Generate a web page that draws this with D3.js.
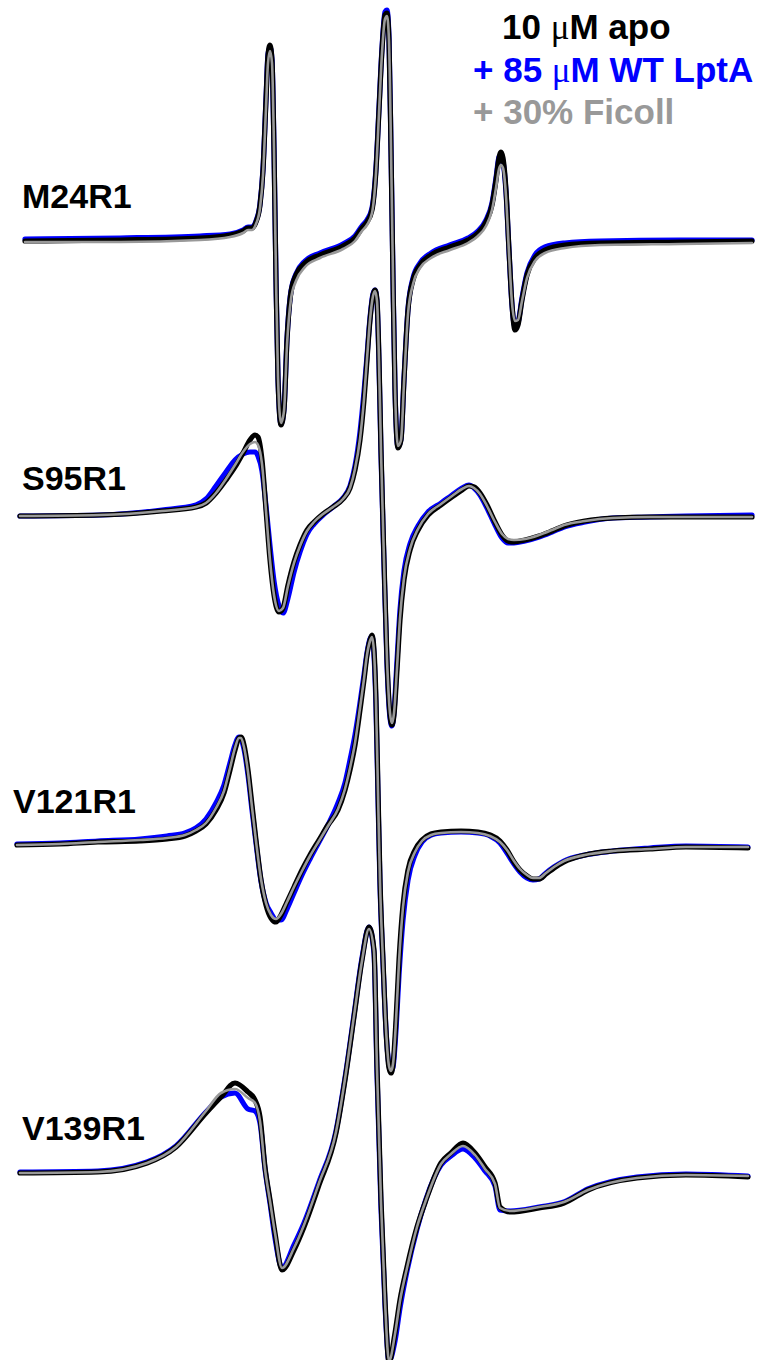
<!DOCTYPE html>
<html lang="en">
<head>
<meta charset="UTF-8">
<title>EPR spectra</title>
<style>
  body { margin: 0; background: #fff; }
  svg text { font-family: "Liberation Sans", Arial, sans-serif; font-weight: bold; }
</style>
</head>
<body>
<svg id="chart" width="765" height="1360"></svg>
<script src="https://cdn.jsdelivr.net/npm/d3@7"></script>
<script>
// magnetic field (G) and first-derivative intensity (a.u.)
var fieldM24 = [3400.7,3410.2,3418.2,3421.2,3422.5,3423.0,3423.4,3423.8,3424.2,3424.5,
  3424.8,3425.0,3425.2,3425.4,3425.6,3425.8,3426.0,3426.3,3426.6,3426.9,
  3427.3,3427.8,3428.7,3430.2,3432.5,3433.7,3434.4,3434.9,3435.4,3435.8,
  3436.1,3436.4,3436.7,3436.9,3437.1,3437.3,3437.5,3437.7,3438.0,3438.3,
  3438.6,3439.0,3439.5,3440.2,3441.3,3443.2,3445.0,3446.0,3446.8,3447.4,
  3447.8,3448.1,3448.3,3448.5,3448.8,3449.1,3449.4,3449.7,3450.0,3450.4,
  3450.9,3451.7,3452.7,3454.7,3458.2,3466.2,3473.4];
var apoM24 = [0,1,3,6,10,13,13,19,36,71, 141,186,196,181,91,-39,-139,-184,-169,-99,
  -51,-34,-22,-14,-5,3,13,19,31,71, 131,191,226,228,201,91,-39,-149,-207,-199,
  -139,-69,-39,-24,-14,-6,1,8,19,36, 61,83,89,83,51,-9,-64,-89,-84,-59,
  -34,-17,-9,-4,-2,-1,0];
var lptaM24 = [2,3,5,7,11,14,14,20,37,72, 142,187,194,181,92,-38,-138,-183,-168,-98,
  -50,-33,-20,-12,-3,5,15,21,33,73, 133,193,229,231,203,92,-38,-148,-206,-198,
  -138,-68,-37,-22,-12,-4,3,10,21,38, 63,84,86,80,49,-10,-64,-86,-82,-57,
  -32,-14,-6,-2,0,1,1];
var ficollM24 = [-1,-1,1,4,8,11,11,17,33,66, 133,178,190,178,92,-36,-136,-182,-170,-104,
  -58,-40,-26,-17,-8,0,10,16,28,68, 128,188,222,225,200,93,-36,-146,-205,-199,
  -142,-73,-43,-27,-17,-9,-2,5,15,31, 53,72,76,73,45,-12,-62,-80,-79,-60,
  -37,-20,-12,-7,-4,-3,-2];

var fieldS95 = [3400.2,3408.2,3414.4,3417.8,3418.8,3419.8,3420.8,3421.7,3422.5,3423.2,
  3423.7,3424.0,3424.4,3424.8,3425.2,3425.6,3426.1,3426.5,3427.0,3427.6,
  3428.2,3428.9,3429.6,3430.5,3431.5,3432.5,3433.2,3433.7,3434.2,3434.6,
  3434.9,3435.2,3435.5,3435.7,3435.9,3436.1,3436.3,3436.6,3436.9,3437.2,
  3437.4,3437.6,3437.9,3438.2,3438.6,3439.2,3440.0,3441.0,3442.3,3443.4,
  3444.4,3445.1,3445.6,3446.2,3446.9,3447.7,3448.4,3449.0,3449.6,3450.7,
  3452.1,3453.4,3454.6,3456.7,3459.5,3463.2,3466.8,3473.4];
var apoS95 = [0,1,5,9,13,23,36,49,63,76, 81,79,56,6,-44,-79,-96,-92,-69,-46,
  -29,-14,-6,2,9,17,28,46,76,116, 156,196,221,226,216,156,66,-44,-144,-199,
  -209,-199,-154,-104,-64,-34,-14,1,11,19, 26,30,29,23,11,-6,-19,-25,-26,-24,
  -20,-15,-10,-5,-2,-1,-1,-1];
var lptaS95 = [0,1,6,11,17,30,44,56,62,64, 64,60,45,10,-30,-65,-90,-97,-82,-56,
  -36,-18,-8,1,9,18,30,50,84,124, 160,198,222,226,214,152,62,-48,-148,-202,
  -210,-196,-145,-94,-55,-28,-10,4,13,21, 28,31,28,21,8,-9,-22,-27,-27,-25,
  -21,-16,-11,-6,-2,-1,0,1];
var ficollS95 = [0,1,5,9,13,23,37,51,64,72, 74,71,52,5,-44,-79,-95,-92,-70,-47,
  -30,-15,-6,2,9,17,28,47,77,117, 157,196,220,225,215,155,65,-44,-143,-197,
  -207,-197,-152,-102,-62,-33,-13,2,12,20, 27,30,28,22,10,-6,-18,-23,-24,-23,
  -19,-14,-9,-5,-2,-1,-1,-1];

var fieldV121 = [3399.9,3404.2,3408.0,3412.2,3414.9,3416.7,3417.8,3418.8,3419.8,3420.6,
  3421.2,3421.7,3422.1,3422.3,3422.6,3423.0,3423.4,3423.8,3424.3,3424.8,
  3425.3,3425.8,3426.3,3426.9,3427.6,3428.4,3429.2,3430.1,3431.0,3432.0,
  3432.7,3433.2,3433.7,3434.2,3434.6,3434.9,3435.2,3435.4,3435.6,3435.8,
  3436.0,3436.2,3436.5,3436.8,3437.1,3437.3,3437.5,3437.8,3438.1,3438.5,
  3439.0,3439.7,3440.4,3441.3,3442.3,3444.3,3446.0,3447.2,3448.2,3448.9,
  3449.6,3450.2,3450.9,3451.5,3452.1,3452.8,3453.6,3454.6,3456.7,3459.5,
  3463.2,3466.8,3473.0];
var apoV121 = [0,1,3,4,6,9,14,21,35,52, 75,95,107,108,100,75,40,5,-35,-60,
  -73,-77,-70,-57,-42,-25,-10,5,20,35, 55,75,100,135,165,190,205,210,195,145,
  55,-35,-115,-185,-223,-228,-220,-175,-115,-60, -25,-5,5,11,13,14,13,10,4,-5,
  -17,-25,-31,-34,-34,-29,-23,-17,-10,-6, -4,-2,-3];
var lptaV121 = [1,2,4,6,9,12,17,26,42,60, 82,100,108,106,96,70,35,2,-36,-58,
  -68,-75,-75,-64,-48,-30,-14,3,20,42, 62,85,110,142,170,192,206,209,190,138,
  48,-40,-118,-185,-220,-226,-222,-185,-130,-75, -35,-10,3,10,12,13,12,9,2,-8,
  -19,-27,-33,-35,-34,-28,-22,-16,-10,-6, -3,-1,-2];
var ficollV121 = [0,1,3,5,7,10,15,22,37,54, 77,97,107,107,98,73,38,4,-34,-58,
  -70,-74,-69,-57,-42,-26,-11,4,19,36, 56,77,102,137,166,190,204,208,193,143,
  53,-37,-116,-184,-221,-226,-219,-176,-117,-62, -27,-7,4,10,12,13,12,9,3,-5,
  -16,-24,-30,-33,-33,-28,-22,-16,-10,-6, -4,-2,-2];

var fieldV139 = [3400.2,3408.0,3412.9,3415.8,3418.8,3420.3,3421.7,3423.0,3423.7,3424.2,
  3424.7,3425.2,3425.7,3426.4,3427.6,3428.6,3430.1,3431.8,3432.7,3433.6,
  3434.4,3435.1,3435.6,3435.9,3436.3,3436.7,3437.1,3437.7,3438.2,3438.9,
  3439.9,3440.8,3442.3,3443.3,3444.5,3445.7,3446.7,3447.7,3448.2,3449.2,
  3452.1,3454.6,3457.0,3461.9,3466.8,3473.0];
var apoV139 = [0,1,10,26,60,76,90,81,73,56, 6,-27,-60,-97,-77,-54,-12,40,93,156,
  213,246,223,106,-27,-127,-189,-160,-127,-94, -54,-27,10,20,30,20,6,-10,-34,-39,
  -35,-30,-17,-5,-2,-4];
var lptaV139 = [1,2,11,27,61,76,80,64,62,50, 4,-30,-65,-95,-72,-50,-9,42,95,158,
  215,246,220,100,-35,-132,-188,-168,-135,-98, -56,-26,8,17,24,15,2,-13,-37,-38,
  -34,-29,-16,-4,-1,-3];
var ficollV139 = [0,1,10,26,62,80,84,75,70,52, 4,-28,-60,-95,-75,-52,-10,41,94,157,
  212,244,222,104,-29,-128,-188,-161,-128,-95, -54,-27,9,19,27,18,4,-11,-35,-38,
  -34,-29,-17,-5,-2,-3];

var mutants = ["M24R1", "S95R1", "V121R1", "V139R1"];
var legendLines = [["10 ", "\u03bc", "M apo"], ["+ 85 ", "\u03bc", "M WT LptA"], ["+ 30% Ficoll"]];

var spectra = [
  { name: mutants[0], field: fieldM24, traces: [lptaM24, apoM24, ficollM24] },
  { name: mutants[1], field: fieldS95, traces: [lptaS95, apoS95, ficollS95] },
  { name: mutants[2], field: fieldV121, traces: [lptaV121, apoV121, ficollV121] },
  { name: mutants[3], field: fieldV139, traces: [lptaV139, apoV139, ficollV139] }
];

// layout
var rowBase = [241, 516, 845, 1173];
var labelPos = [[22, 208], [22, 490], [13, 813], [22, 1140]];
var traceColor = ["#0000ff", "#000000", "#999999"];
var traceWidth = [5.2, 5.2, 2.6];

var svg = d3.select("#chart");

var x = d3.scaleLinear().domain([3400, 3475]).range([18, 768]);
var y = d3.scaleLinear().domain([-100, 100]).range([100, -100]);

var line = d3.line()
  .x(function (d) { return x(d[0]); })
  .y(function (d) { return y(d[1]); })
  .curve(d3.curveMonotoneX);

spectra.forEach(function (s, i) {
  var g = svg.append("g").attr("transform", "translate(0," + rowBase[i] + ")");
  s.traces.forEach(function (tr, j) {
    g.append("path")
      .datum(s.field.map(function (f, k) { return [f, tr[k]]; }))
      .attr("d", line)
      .attr("fill", "none")
      .attr("stroke", traceColor[j])
      .attr("stroke-width", traceWidth[j])
      .attr("stroke-linejoin", "round")
      .attr("stroke-linecap", "round");
  });
  svg.append("text")
    .attr("x", labelPos[i][0])
    .attr("y", labelPos[i][1])
    .attr("font-size", 34)
    .attr("fill", "#000")
    .text(s.name);
});

var legendPos = [[502, 39], [473, 82], [473, 124]];
var legendColor = ["#000000", "#0000ff", "#999999"];

legendLines.forEach(function (parts, i) {
  var t = svg.append("text")
    .attr("x", legendPos[i][0])
    .attr("y", legendPos[i][1])
    .attr("font-size", 35)
    .attr("fill", legendColor[i]);
  parts.forEach(function (p) {
    var ts = t.append("tspan").text(p);
    if (p === "\u03bc") {
      ts.style("font-family", "'Liberation Serif', 'Times New Roman', serif")
        .style("font-weight", "normal");
    }
  });
});
</script>
</body>
</html>
